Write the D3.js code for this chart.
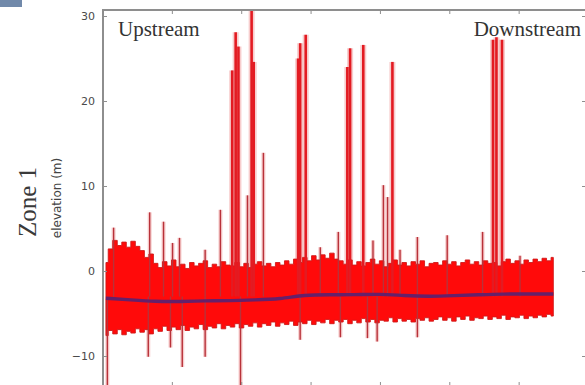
<!DOCTYPE html>
<html>
<head>
<meta charset="utf-8">
<script src="https://cdn.jsdelivr.net/npm/d3@7"></script>
<style>
  body { margin: 0; background: #fff; }
  svg { display: block; }
</style>
</head>
<body>
<svg width="585" height="385"></svg>
<script>
// elevation tick labels
const yTicks = [-10, 0, 10, 20, 30];
const xTicks = [1, 2, 3, 4, 5, 6];

// noise envelope of the elevation trace, 100 evenly spaced samples
const upper = [1.0, 2.6, 3.6, 3.0, 3.4, 2.8, 3.5, 2.9, 2.4, 1.6, 2.0,
  0.9, 0.4, 1.1, 0.6, 1.3, 0.5, 0.8, 0.3, 1.0, 0.6, 0.9, 1.2, 0.4, 0.8, 0.5, 1.1, 0.7,
  0.6, 1.0, 0.5, 0.9, 0.4, 0.8, 1.1, 0.6, 0.9, 0.5, 1.0, 0.7, 1.2, 0.8, 1.4, 1.0,
  1.6, 1.2, 1.8, 1.3, 1.9, 1.5, 2.1, 1.4,
  1.2, 0.8, 1.3, 0.7, 1.1, 0.6, 1.0, 1.4, 0.8, 1.2, 0.5, 0.9, 1.3, 0.7, 1.0, 0.6, 1.1, 0.8, 1.2, 0.5, 0.9,
  1.0, 0.7, 1.2, 0.8, 1.1, 0.6, 1.0, 1.3, 0.8, 1.1, 0.7, 1.2, 0.9, 1.0, 0.6, 1.1, 1.4, 0.9, 1.2, 0.8, 1.3, 1.0, 1.4, 1.1, 1.5, 1.2, 1.6];
const lower = [-7.6, -7.0, -7.4, -6.9, -7.5, -7.1, -7.3, -6.8, -7.2, -6.9, -7.4,
  -6.8, -7.1, -6.5, -7.0, -6.6, -6.9, -6.4, -7.0, -6.6, -6.8, -6.3, -6.9, -6.5, -6.7, -6.2, -6.8, -6.4,
  -6.6, -6.2, -6.7, -6.3, -6.5, -6.1, -6.6, -6.2, -6.4, -6.0, -6.5, -6.1, -6.3, -5.9, -6.4, -6.0,
  -6.2, -5.8, -6.3, -5.9, -6.1, -5.7, -6.2, -5.8,
  -6.0, -5.7, -6.2, -5.8, -6.1, -5.6, -6.0, -5.7, -6.1, -5.8, -5.9, -5.5, -6.0, -5.6, -5.9, -5.7, -6.0, -5.6, -5.8, -5.5, -5.9,
  -5.7, -5.4, -5.8, -5.5, -5.9, -5.4, -5.7, -5.3, -5.8, -5.5, -5.6, -5.3, -5.7, -5.4, -5.6, -5.2, -5.7, -5.4, -5.5, -5.2, -5.6, -5.3, -5.5, -5.2, -5.4, -5.1, -5.3];

// smoothed mean elevation
const mean = [-3.2, -3.4, -3.6, -3.6, -3.5, -3.5, -3.4, -3.3, -2.8, -2.8, -2.8, -2.7, -2.9, -3.0, -2.9, -2.8, -2.7, -2.7, -2.7];

// outlier spikes: position along stream and peak elevation
const spikeUpAt = [0.16, 0.68, 0.88, 1.01, 1.11, 1.48, 1.70, 1.87, 1.92, 1.96, 2.09, 2.15, 2.18, 2.32,
  2.82, 2.85, 2.93, 3.14, 3.40, 3.53, 3.57, 3.76, 3.90, 4.05, 4.11, 4.18, 4.29, 4.54, 4.97, 5.48, 5.63, 5.68, 5.76, 6.02];
const spikeUpTop = [5.1, 6.9, 5.8, 3.3, 3.9, 2.5, 7.2, 23.6, 28.1, 26.4, 8.9, 31, 24.6, 13.9,
  25.0, 26.8, 27.8, 2.8, 4.6, 24.0, 26.2, 26.6, 3.6, 10.1, 8.7, 24.6, 2.5, 4.0, 4.2, 4.6, 27.2, 27.5, 27.2, 1.8];
const spikeDownAt = [0.07, 0.66, 0.98, 1.15, 1.48, 1.99, 2.85, 3.43, 3.82, 3.96, 4.54];
const spikeDownBottom = [-14, -10.1, -9.0, -11.3, -10.1, -14, -8.1, -7.8, -7.9, -8.3, -7.8];

const svg = d3.select('svg');
const plotL = 103, plotR = 586, plotT = 10, plotB = 387;

const x = d3.scaleLinear().domain([0, 7]).range([102.5, 588]);
const y = d3.scaleLinear().domain([-10, 30]).range([356, 16]);
const sx = d3.scaleLinear().domain([0, upper.length - 1]).range([x(0.05), x(6.5)]);
const mx = d3.scaleLinear().domain([0, mean.length - 1]).range([x(0.05), x(6.5)]);

// photo artefact in the corner
svg.append('rect').attr('x', 0).attr('y', 0).attr('width', 22).attr('height', 7).attr('fill', '#7189aa');

svg.append('clipPath').attr('id', 'plot')
  .append('rect').attr('x', plotL).attr('y', plotT).attr('width', plotR - plotL).attr('height', plotB - plotT);

const g = svg.append('g').attr('clip-path', 'url(#plot)');

// spike halos
const spikes = spikeUpAt.map((d, i) => ({ at: d, from: -3, to: spikeUpTop[i] }))
  .concat(spikeDownAt.map((d, i) => ({ at: d, from: -3, to: spikeDownBottom[i] })));

g.selectAll('.halo').data(spikes).enter().append('line')
  .attr('class', 'halo')
  .attr('x1', d => x(d.at)).attr('x2', d => x(d.at))
  .attr('y1', d => y(d.from)).attr('y2', d => y(d.to))
  .attr('stroke', 'rgba(230,90,90,0.3)')
  .attr('stroke-width', d => d.to > 20 ? 6 : 4);

// noise band
const band = d3.area()
  .x((d, i) => sx(i))
  .y0((d, i) => y(lower[i]))
  .y1(d => y(d))
  .curve(d3.curveStep);

g.append('path').datum(upper)
  .attr('d', band)
  .attr('fill', '#ff0a0a')
  .attr('stroke', '#d01a1a')
  .attr('stroke-width', 0.9);

// spike cores
g.selectAll('.spike').data(spikes).enter().append('line')
  .attr('class', 'spike')
  .attr('x1', d => x(d.at)).attr('x2', d => x(d.at))
  .attr('y1', d => y(d.from)).attr('y2', d => y(d.to))
  .attr('stroke', d => d.to > 20 ? '#e31b22' : '#b8323a')
  .attr('stroke-width', d => d.to > 20 ? 2.6 : 1.4);

// mean line
g.append('path').datum(mean)
  .attr('d', d3.line().x((d, i) => mx(i)).y(d => y(d)).curve(d3.curveBasis))
  .attr('fill', 'none')
  .attr('stroke', '#66206a')
  .attr('stroke-width', 3.4);

// frame and ticks
svg.append('rect')
  .attr('x', plotL).attr('y', plotT).attr('width', plotR - plotL).attr('height', plotB - plotT)
  .attr('fill', 'none').attr('stroke', '#8e8e8e').attr('stroke-width', 2);

const fmt = d => d < 0 ? '\u2212' + Math.abs(d) : d;

svg.append('g').attr('transform', 'translate(' + plotL + ',0)')
  .call(d3.axisLeft(y).tickValues(yTicks).tickSize(-4).tickPadding(8).tickFormat(fmt))
  .call(a => a.select('.domain').remove())
  .call(a => a.selectAll('line').attr('stroke', '#8e8e8e'))
  .call(a => a.selectAll('text').attr('fill', '#4a4a4a')
    .style('font-family', 'DejaVu Sans, sans-serif').style('font-size', '11px'));

svg.append('g').attr('transform', 'translate(' + plotR + ',0)')
  .call(d3.axisRight(y).tickValues(yTicks).tickSize(-4).tickFormat(''))
  .call(a => a.select('.domain').remove())
  .call(a => a.selectAll('line').attr('stroke', '#8e8e8e'));

svg.append('g').attr('transform', 'translate(0,' + plotT + ')')
  .call(d3.axisTop(x).tickValues(xTicks).tickSize(-4).tickFormat(''))
  .call(a => a.select('.domain').remove())
  .call(a => a.selectAll('line').attr('stroke', '#8e8e8e'));

svg.append('g').attr('transform', 'translate(0,' + plotB + ')')
  .call(d3.axisBottom(x).tickValues(xTicks).tickSize(-5).tickFormat(''))
  .call(a => a.select('.domain').remove())
  .call(a => a.selectAll('line').attr('stroke', '#8e8e8e'));

// labels
svg.append('text').attr('x', 118).attr('y', 36)
  .style('font-family', 'Liberation Serif, serif').style('font-size', '21px')
  .attr('fill', '#333').text('Upstream');

svg.append('text').attr('x', 581).attr('y', 36).attr('text-anchor', 'end')
  .style('font-family', 'Liberation Serif, serif').style('font-size', '21px')
  .attr('fill', '#333').text('Downstream');

svg.append('text').attr('transform', 'translate(36,202) rotate(-90)').attr('text-anchor', 'middle')
  .style('font-family', 'Liberation Serif, serif').style('font-size', '25px')
  .attr('fill', '#3a3a3a').text('Zone 1');

svg.append('text').attr('transform', 'translate(61,198) rotate(-90)').attr('text-anchor', 'middle')
  .style('font-family', 'DejaVu Sans, sans-serif').style('font-size', '12px')
  .attr('fill', '#444').text('elevation (m)');
</script>
</body>
</html>
